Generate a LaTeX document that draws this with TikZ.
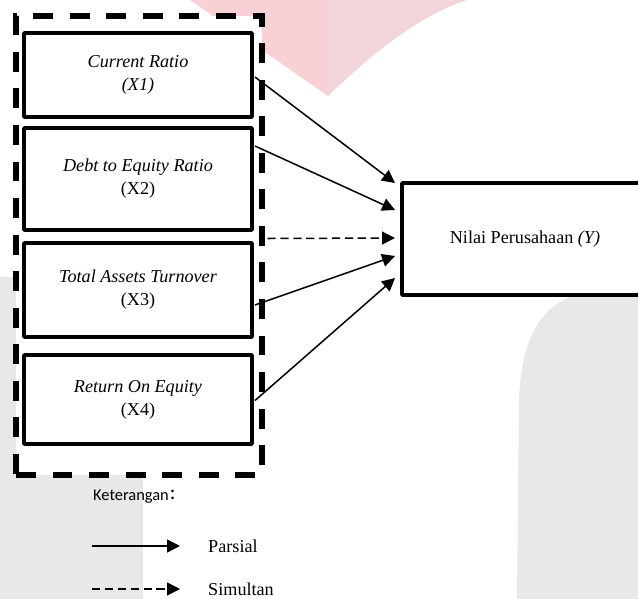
\documentclass[tikz,border=0pt]{standalone}
\usepackage{fontspec}
\setmainfont{Liberation Serif}
\newfontfamily\notefont{Carlito}
\usetikzlibrary{arrows.meta,calc,positioning}
\definecolor{ink}{HTML}{000000}
\definecolor{markpink}{HTML}{F9D1D4}
\definecolor{markrose}{HTML}{F2D5D8}
\definecolor{markgray}{HTML}{E8E8E8}

\begin{document}
\begin{tikzpicture}[x=0.03cm,y=-0.03cm,
  varbox/.style={draw=ink,fill=white,line width=3.4pt,rounded corners=0.8pt,
    minimum width=6.84cm,align=center,font=\fontsize{15.5}{19.5}\selectfont},
  groupbox/.style={draw=ink,fill=white,line width=4.3pt,dash pattern=on 17pt off 14.2pt,
    minimum width=7.38cm,minimum height=13.77cm},
  parsial/.style={draw=ink,line width=1.3pt,-{Triangle[length=11pt,width=11pt]}},
  simultan/.style={parsial,dash pattern=on 7pt off 4pt},
  notetext/.style={anchor=west,inner sep=0pt,font=\fontsize{15.5}{19.5}\selectfont}]
  \useasboundingbox (0,0) rectangle (638,599);
  \clip (0,0) rectangle (638,599);
  % watermark in the background
  \fill[markpink] (190,0) -- (328,96) -- (328,0) -- cycle;
  \fill[markrose] (328,0) -- (328,96) .. controls (370,55) and (420,15) .. (467,0) -- cycle;
  \fill[markgray] (0,277) rectangle (143,599);
  \fill[markgray] (517,599) -- (519,400) .. controls (522,330) and (545,295) .. (600,290)
    -- (638,287) -- (638,599) -- cycle;

  % independent variables
  \node[groupbox] (grp) at (139,245.5) {};
  \node[varbox,minimum height=2.52cm] (x1) at (138,75) {\textit{Current Ratio}\\\textit{(X1)}};
  \node[varbox,minimum height=3.06cm] (x2) at (138,179) {\textit{Debt to Equity Ratio}\\(X2)};
  \node[varbox,minimum height=2.82cm] (x3) at (138,290) {\textit{Total Assets Turnover}\\(X3)};
  \node[varbox,minimum height=2.67cm] (x4) at (138,399.5) {\textit{Return On Equity}\\(X4)};

  % dependent variable
  \node[varbox,minimum width=7.38cm,minimum height=3.36cm] (y) at (525,239)
    {Nilai Perusahaan \textit{(Y)}};

  \draw[parsial] ($(x1.east)+(1,2)$) -- ($(y.west)+(-5,-56)$);
  \draw[parsial] ($(x2.east)+(1,-33)$) -- ($(y.west)+(-5,-29)$);
  \draw[simultan] ($(grp.east)+(3,-7)$) -- ($(y.west)+(-5,-1)$);
  \draw[parsial] ($(x3.east)+(1,15)$) -- ($(y.west)+(-5,17)$);
  \draw[parsial] ($(x4.east)+(1,1)$) -- ($(y.west)+(-5,39)$);

  % legend
  \node[anchor=west,inner sep=0pt,font=\notefont\fontsize{14}{16}\selectfont] (note) at (93,497)
    {Keterangan\kern1pt\raisebox{1pt}{\fontsize{18}{18}\selectfont:}};
  \coordinate (p0) at (92,546);
  \coordinate (p1) at (180,546);
  \coordinate (s0) at (92,589);
  \coordinate (s1) at (180,589);
  \draw[parsial] (p0) -- (p1);
  \draw[simultan] (s0) -- (s1);
  \node[notetext,right=28 of p1] (partial) {Parsial};
  \node[notetext,right=28 of s1] (simul) {Simultan};
\end{tikzpicture}
\end{document}
